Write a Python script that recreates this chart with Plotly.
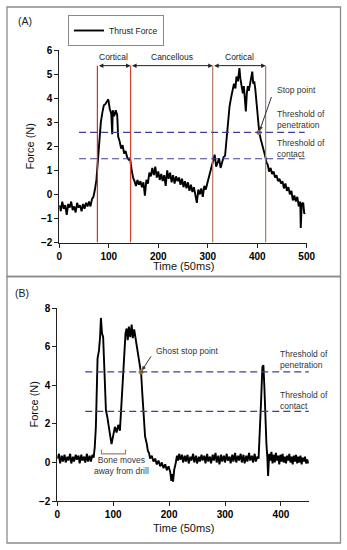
import plotly.graph_objects as go

# ---------------- Panel A data (Thrust force) ----------------
time_a = [0, 3, 6, 9, 12, 15, 18, 21, 24, 27, 30, 33, 36, 39, 42, 45, 48, 51, 54, 57,
          60, 63, 66, 69, 72, 75, 78, 81, 84, 87, 90, 93, 96, 99, 102, 105, 107, 108, 111, 114,
          117, 119, 122, 125, 128, 131, 134, 137, 140, 143, 146, 149, 152, 155, 158, 161, 164, 167, 170, 173,
          176, 179, 182, 185, 188, 191, 194, 197, 200, 203, 206, 209, 212, 215, 218, 221, 224, 227, 230, 233,
          236, 239, 242, 245, 248, 251, 254, 257, 260, 263, 266, 269, 272, 275, 278, 281, 284, 287, 290, 293,
          296, 299, 302, 305, 308, 311, 314, 317, 320, 323, 326, 329, 332, 335, 338, 341, 344, 347, 350, 353,
          356, 358, 361, 364, 366, 368, 371, 373, 375, 377, 379, 381, 383, 385, 387, 390, 392, 394, 396, 398,
          401, 404, 407, 410, 413, 416, 419, 421, 424, 427, 430, 433, 436, 439, 442, 445, 448, 451, 454, 457,
          460, 463, 466, 469, 472, 475, 478, 481, 484, 487, 488, 490, 493, 495, 497]
force_a = [-0.45, -0.7, -0.3, -0.6, -0.45, -0.85, -0.4, -0.55, -0.3, -0.65, -0.5, -0.75, -0.35, -0.55, -0.45, -0.7, -0.4, -0.6, -0.35, -0.5,
           -0.3, -0.5, -0.2, -0.1, 0.2, 0.6, 1.4, 2.3, 3.0, 3.4, 3.7, 3.75, 3.85, 3.95, 3.55, 3.35, 2.5, 3.5, 3.25, 3.5,
           3.3, 2.4, 2.2, 1.9, 2.05, 1.7, 1.8, 1.55, 1.45, 1.5, 1.05, 0.7, 0.55, 0.35, 0.6, 0.4, 0.55, 0.3, 0.5, -0.05,
           0.6, 0.45, 0.9, 0.75, 1.1, 0.8, 1.15, 0.7, 0.95, 0.6, 0.85, 0.55, 0.8, 0.35, 1.0, 0.65, 0.9, 0.5, 0.8, 0.45,
           0.75, 0.55, 0.7, 0.4, 0.65, 0.3, 0.55, 0.25, 0.5, 0.15, 0.4, 0.1, 0.3, -0.05, -0.35, 0.2, 0.0, 0.25, -0.1, 0.35,
           0.2, 0.45, 0.7, 0.9, 1.25, 1.4, 1.65, 1.15, 1.35, 1.5, 1.1, 1.3, 1.55, 1.6, 2.3, 3.2, 3.65, 4.0, 4.35, 4.6,
           4.4, 4.9, 4.7, 5.25, 4.8, 4.6, 4.2, 4.5, 3.95, 3.45, 4.2, 4.5, 4.3, 4.55, 4.7, 5.1, 4.6, 4.7, 4.4, 3.95,
           2.95, 2.6, 2.3, 2.1, 1.8, 1.6, 1.3, 1.25, 0.95, 1.1, 0.85, 0.95, 0.7, 0.8, 0.55, 0.65, 0.45, 0.55, 0.25, 0.45,
           0.15, 0.3, 0.0, 0.15, -0.25, -0.05, -0.3, -0.1, -0.5, -0.3, -1.4, -0.4, -0.35, -0.8, -0.75]

# Region boundaries (cortical / cancellous / cortical) and thresholds, panel A
boundaries_a = [77, 144, 310, 417]
boundary_colors = ["#e02a2a", "#d8402f", "#b07a66", "#b07a66"]
region_labels = ["Cortical", "Cancellous", "Cortical"]
threshold_penetration_a = 2.58
threshold_contact_a = 1.48
stop_point_a = (403.5, 2.57)

# ---------------- Panel B data ----------------
time_b = [0, 3, 5, 8, 10, 13, 15, 18, 20, 23, 25, 28, 30, 33, 35, 38, 40, 43, 45, 48,
          50, 53, 55, 58, 60, 63, 65, 67, 69, 71, 72, 74.5, 76.5, 78, 80, 82, 83.5, 85, 87, 89.5,
          91, 94, 97, 100, 103, 106, 109, 112, 114, 117, 120, 122, 124, 126, 128, 130.5, 133, 135, 137.5, 140,
          144, 148, 150, 152, 154.5, 157, 160, 162, 164, 166, 169, 172, 175, 178, 181, 184, 187, 190, 193, 196,
          199, 202, 204, 205.5, 207, 209, 212, 214, 216, 218, 220, 223, 225, 228, 230, 233, 235, 238, 240, 243,
          245, 248, 250, 253, 255, 258, 260, 263, 265, 268, 270, 273, 275, 278, 280, 283, 285, 288, 290, 293,
          295, 298, 300, 303, 305, 308, 310, 313, 315, 318, 320, 323, 325, 328, 330, 333, 335, 338, 340, 343,
          345, 348, 350, 353, 355, 358, 360, 362.5, 364.5, 366.8, 368.6, 370.4, 372, 374, 375.8, 377, 379, 381, 383, 385,
          387, 389, 391, 393, 395, 397, 399, 401, 403, 405, 407, 409, 411, 413, 415, 417, 419, 421, 423, 425,
          427, 429, 431, 433, 435, 437, 439, 441, 443, 445, 447, 449]
force_b = [0.2, 0.45, -0.05, 0.35, 0.05, 0.4, 0.0, 0.3, 0.1, 0.45, -0.05, 0.3, 0.05, 0.4, 0.15, 0.35, -0.05, 0.4, 0.1, 0.3,
           0.0, 0.45, 0.05, 0.35, 0.05, 0.4, 0.25, 0.8, 1.85, 3.9, 5.4, 5.8, 6.5, 7.5, 6.7, 6.5, 5.3, 3.9, 2.7, 2.35,
           2.0, 1.5, 0.95, 1.5, 1.85, 1.55, 1.95, 1.65, 2.7, 4.6, 6.35, 6.7, 6.95, 6.35, 7.05, 6.5, 7.15, 6.45, 6.9, 6.45,
           5.65, 4.8, 4.6, 3.6, 2.55, 1.35, 0.97, 0.6, 0.5, 0.2, 0.35, 0.05, 0.2, -0.1, 0.1, -0.2, 0.0, -0.3, -0.1, -0.4,
           -0.2, -0.5, -0.95, -0.6, -1.0, -0.4, 0.0, 0.35, 0.1, 0.45, 0.15, 0.4, 0.0, 0.35, 0.05, 0.4, -0.05, 0.3, 0.1, 0.45,
           0.0, 0.35, -0.05, 0.3, 0.05, 0.4, 0.1, 0.35, -0.05, 0.45, 0.05, 0.3, -0.05, 0.4, 0.1, 0.5, 0.0, 0.35, -0.1, 0.4,
           0.05, 0.35, 0.0, 0.45, 0.1, 0.3, -0.05, 0.4, 0.05, 0.5, 0.0, 0.35, 0.1, 0.45, 0.0, 0.4, -0.05, 0.35, 0.05, 0.5,
           0.1, 0.35, 0.0, 0.45, 0.05, 0.3, 0.2, 1.5, 3.2, 4.95, 5.05, 3.9, 2.35, 0.97, 0.2, -0.7, 0.45, 0.1, 0.55, -0.05,
           0.4, 0.0, 0.5, 0.1, 0.35, -0.1, 0.4, 0.05, 0.45, 0.0, 0.3, -0.05, 0.35, 0.1, 0.45, 0.0, 0.3, -0.1, 0.35, 0.05,
           0.4, -0.05, 0.3, 0.0, 0.35, -0.1, 0.25, 0.05, 0.3, -0.05, 0.15, -0.05]

threshold_penetration_b = 4.7
threshold_contact_b = 2.65
ghost_stop_point_b = (149.7, 4.7)
bone_moves_span = [79, 122]

FONT = "Liberation Sans, Arial, sans-serif"
DASH_COLOR = "#3f3f98"
POINT_COLOR = "#a37a2c"
W, H = 347, 550

fig = go.Figure()
fig.add_trace(go.Scatter(x=time_a, y=force_a, mode="lines", name="Thrust Force",
                         line=dict(color="black", width=1.9), xaxis="x", yaxis="y"))
fig.add_trace(go.Scatter(x=time_b, y=force_b, mode="lines", name="Thrust Force", showlegend=False,
                         line=dict(color="black", width=1.9), xaxis="x2", yaxis="y2"))
# stop points
fig.add_trace(go.Scatter(x=[stop_point_a[0]], y=[stop_point_a[1]], mode="markers", showlegend=False,
                         marker=dict(color=POINT_COLOR, size=5), xaxis="x", yaxis="y"))
fig.add_trace(go.Scatter(x=[ghost_stop_point_b[0]], y=[ghost_stop_point_b[1]], mode="markers", showlegend=False,
                         marker=dict(color=POINT_COLOR, size=5), xaxis="x2", yaxis="y2"))

shapes = []
annotations = []
# panel borders
shapes.append(dict(type="rect", xref="paper", yref="paper", x0=7 / W, x1=340.5 / W,
                   y0=1 - 276.5 / H, y1=1 - 7 / H, line=dict(color="#8a8a8a", width=1.3), layer="below"))
shapes.append(dict(type="rect", xref="paper", yref="paper", x0=7 / W, x1=340.5 / W,
                   y0=1 - 543 / H, y1=1 - 276.5 / H, line=dict(color="#8a8a8a", width=1.3), layer="below"))

# boundary lines & arrows, panel A
ARROW_Y = 5.35
for b, c in zip(boundaries_a, boundary_colors):
    shapes.append(dict(type="line", xref="x", yref="y", x0=b, x1=b, y0=-2, y1=ARROW_Y,
                       line=dict(color=c, width=1.2)))
for i, lab in enumerate(region_labels):
    annotations.append(dict(x=boundaries_a[i + 1], y=ARROW_Y, ax=boundaries_a[i], ay=ARROW_Y,
                            xref="x", yref="y", axref="x", ayref="y", text="", showarrow=True,
                            arrowside="end+start", arrowhead=2, arrowsize=0.9, arrowwidth=1,
                            arrowcolor="#222", standoff=0, startstandoff=0))
    annotations.append(dict(x=(boundaries_a[i] + boundaries_a[i + 1]) / 2, y=5.72, xref="x", yref="y",
                            text=lab, showarrow=False, font=dict(family=FONT, size=8.5, color="#222")))

# thresholds (dashed)
for yv in [threshold_penetration_a, threshold_contact_a]:
    shapes.append(dict(type="line", xref="x", yref="y", x0=40, x1=496, y0=yv, y1=yv,
                       line=dict(color=DASH_COLOR, width=1.2, dash="7px,4px")))
for yv in [threshold_penetration_b, threshold_contact_b]:
    shapes.append(dict(type="line", xref="x2", yref="y2", x0=50, x1=450, y0=yv, y1=yv,
                       line=dict(color=DASH_COLOR, width=1.2, dash="7px,4px")))

# bracket, panel B
shapes.append(dict(type="path", xref="x2", yref="y2",
                   path=f"M {bone_moves_span[0]},0.67 L {bone_moves_span[0]},0.45 L {bone_moves_span[1]},0.45 L {bone_moves_span[1]},0.67",
                   line=dict(color="#a08262", width=1.2)))

TXT = dict(family=FONT, size=8.5, color="#333")
# Panel A text
annotations += [
    dict(x=436, y=4.32, xref="x", yref="y", text="Stop point", showarrow=False, xanchor="left", font=TXT),
    dict(x=stop_point_a[0], y=stop_point_a[1], xref="x", yref="y", text="", showarrow=True,
         ax=13, ay=-37, arrowhead=2, arrowsize=0.8, arrowwidth=1, arrowcolor="#333", standoff=2),
    dict(x=436, y=3.1, xref="x", yref="y", text="Threshold of<br>penetration", showarrow=False,
         xanchor="left", align="left", font=TXT),
    dict(x=436, y=1.9, xref="x", yref="y", text="Threshold of<br>contact", showarrow=False,
         xanchor="left", align="left", font=TXT),
]
# Panel B text
annotations += [
    dict(x=173, y=5.81, xref="x2", yref="y2", text="Ghost stop point", showarrow=False, xanchor="left", font=TXT),
    dict(x=ghost_stop_point_b[0], y=ghost_stop_point_b[1], xref="x2", yref="y2", text="", showarrow=True,
         ax=11, ay=-17, arrowhead=2, arrowsize=0.8, arrowwidth=1, arrowcolor="#333", standoff=2),
    dict(x=394, y=5.34, xref="x2", yref="y2", text="Threshold of<br>penetration", showarrow=False,
         xanchor="left", align="left", font=TXT),
    dict(x=394, y=3.22, xref="x2", yref="y2", text="Threshold of<br>contact", showarrow=False,
         xanchor="left", align="left", font=TXT),
    dict(x=115, y=-0.16, xref="x2", yref="y2", text="Bone moves<br>away from drill", showarrow=False,
         align="center", font=TXT),
]
# Panel labels and axis titles
LAB = dict(family=FONT, size=10.5, color="#222")
TIT = dict(family=FONT, size=11, color="#111")
P = dict(xref="paper", yref="paper", showarrow=False, yanchor="middle")
annotations += [
    dict(x=16 / W, y=1 - 21 / H, text="(A)", xanchor="left", font=LAB, **P),
    dict(x=13 / W, y=1 - 292.5 / H, text="(B)", xanchor="left", font=LAB, **P),
    dict(x=(59.3 + 306.7) / 2 / W, y=1 - 266 / H, text="Time (50ms)", xanchor="center", font=TIT, **P),
    dict(x=(57.3 + 309) / 2 / W, y=1 - 528 / H, text="Time (50ms)", xanchor="center", font=TIT, **P),
    dict(x=29 / W, y=1 - 146.5 / H, text="Force (N)", textangle=-90, xanchor="center", font=TIT, **P),
    dict(x=33 / W, y=1 - 404.5 / H, text="Force (N)", textangle=-90, xanchor="center", font=TIT, **P),
]

axis_common = dict(showgrid=False, zeroline=False, showline=True, linecolor="#222", linewidth=1,
                   ticks="outside", ticklen=4, tickwidth=1, tickcolor="#222", automargin=False,
                   tickfont=dict(family=FONT, size=10, color="black", weight="bold"))

fig.update_layout(
    template="none",
    width=W, height=H, margin=dict(l=0, r=0, t=0, b=0, pad=0, autoexpand=False),
    paper_bgcolor="white", plot_bgcolor="white",
    xaxis=dict(domain=[59.3 / W, 306.7 / W], range=[0, 500], dtick=100, anchor="y", **axis_common),
    yaxis=dict(domain=[1 - 242.5 / H, 1 - 50 / H], range=[-2, 6], dtick=1, anchor="x", **axis_common),
    xaxis2=dict(domain=[57.3 / W, 308.9 / W], range=[0, 450], dtick=100, anchor="y2", **axis_common),
    yaxis2=dict(domain=[1 - 501 / H, 1 - 308.3 / H], range=[-2, 8], dtick=2, anchor="x2", **axis_common),
    showlegend=True,
    legend=dict(x=68 / W, y=1 - 15 / H, xanchor="left", yanchor="top", bordercolor="#8a8a8a", borderwidth=1,
                bgcolor="white", font=dict(family=FONT, size=8.5, color="#222"), itemwidth=30,
                tracegroupgap=0),
    shapes=shapes, annotations=annotations,
)

fig.write_html("out.html", config={"displayModeBar": False},
               post_script="document.body.style.margin='0';document.body.style.overflow='hidden';")
